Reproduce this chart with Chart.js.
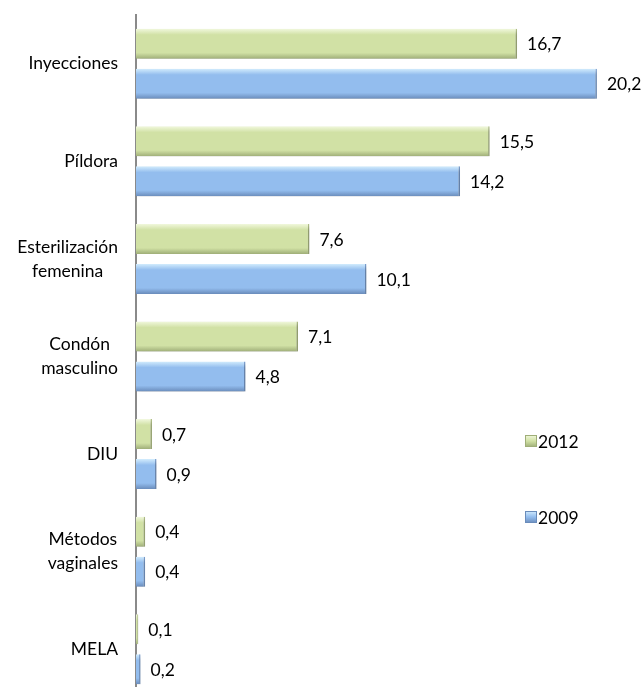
<!DOCTYPE html>
<html>
<head>
<meta charset="utf-8">
<script src="https://cdn.jsdelivr.net/npm/chart.js@4/dist/chart.umd.min.js"></script>
<style>
  html, body { margin: 0; padding: 0; background: #ffffff; overflow: hidden; }
  #wrap { position: relative; width: 643px; height: 698px; }
</style>
</head>
<body>
<div id="wrap"><canvas id="c"></canvas></div>
<script>
// ---- data ----
const categories = [
  ['Inyecciones'],
  ['Píldora'],
  ['Esterilización', 'femenina'],
  ['Condón', 'masculino'],
  ['DIU'],
  ['Métodos', 'vaginales'],
  ['MELA']
];
const seriesNames = ['2012', '2009'];
const values2012 = [16.7, 15.5, 7.6, 7.1, 0.7, 0.4, 0.1];
const values2009 = [20.2, 14.2, 10.1, 4.8, 0.9, 0.4, 0.2];

// ---- styles ----
const FONT = '17.5px Lato';
const palette = {
  '2012': { light: '#f1f8dd', main: '#d1e1a5', dark: '#9fae78', edge: '#b3c189' },
  '2009': { light: '#d2ecfd', main: '#93bdee', dark: '#6a8cbb', edge: '#7c9fd0' }
};
const fmt = v => v.toFixed(1).replace('.', ',');

const barStyle = {
  id: 'barStyle',
  beforeDatasetsDraw(chart) {
    const ctx = chart.ctx;
    chart.data.datasets.forEach((ds, i) => {
      const p = palette[ds.label];
      chart.getDatasetMeta(i).data.forEach(bar => {
        const top = bar.y - bar.height / 2, bot = bar.y + bar.height / 2;
        const g = ctx.createLinearGradient(0, top, 0, bot);
        g.addColorStop(0, p.light);
        g.addColorStop(0.2, p.main);
        g.addColorStop(0.8, p.main);
        g.addColorStop(1, p.dark);
        bar.options.backgroundColor = g;
      });
    });
    ctx.save();
    ctx.shadowColor = 'rgba(0,0,0,0.25)';
    ctx.shadowBlur = 4;
    ctx.shadowOffsetX = 2;
    ctx.shadowOffsetY = 3;
  },
  afterDatasetsDraw(chart) {
    const ctx = chart.ctx;
    ctx.restore();
    ctx.save();
    ctx.font = FONT;
    ctx.fillStyle = '#000';
    ctx.textAlign = 'left';
    ctx.textBaseline = 'middle';
    chart.data.datasets.forEach((ds, i) => {
      chart.getDatasetMeta(i).data.forEach((bar, j) => {
        ctx.fillText(fmt(ds.data[j]), bar.x + 10, bar.y + 1);
      });
    });
    ctx.restore();
  },
  afterDraw(chart) {
    const ctx = chart.ctx;
    const ys = chart.scales.y;
    ctx.save();
    ctx.font = FONT;
    ctx.fillStyle = '#000';
    ctx.textBaseline = 'middle';
    ctx.textAlign = 'center';
    const lineH = 24;
    const rightEdge = 118;
    chart.data.labels.forEach((lines, i) => {
      const y = ys.getPixelForTick(i);
      const w = Math.max(...lines.map(l => ctx.measureText(l).width));
      const cx = rightEdge - w / 2;
      lines.forEach((l, k) => {
        ctx.fillText(l, cx, y + (k - (lines.length - 1) / 2) * lineH);
      });
    });
    // legend
    const legY = [441, 517];
    ctx.textAlign = 'left';
    seriesNames.forEach((name, k) => {
      const p = palette[name];
      const y = legY[k];
      const g = ctx.createLinearGradient(0, y - 6, 0, y + 6);
      g.addColorStop(0, p.light);
      g.addColorStop(0.5, p.main);
      g.addColorStop(1, p.dark);
      ctx.fillStyle = g;
      ctx.fillRect(525, y - 6, 12, 12);
      ctx.strokeStyle = p.dark;
      ctx.lineWidth = 1;
      ctx.strokeRect(525.5, y - 5.5, 11, 11);
      ctx.fillStyle = '#000';
      ctx.fillText(name, 538, y + 1);
    });
    ctx.restore();
  }
};

new Chart(document.getElementById('c'), {
  type: 'bar',
  data: {
    labels: categories,
    datasets: [
      { label: seriesNames[0], data: values2012, backgroundColor: () => palette['2012'].main,
        borderColor: palette['2012'].edge, borderWidth: { top: 0, bottom: 0, left: 0, right: 1.5 }, borderSkipped: 'start' },
      { label: seriesNames[1], data: values2009, backgroundColor: () => palette['2009'].main,
        borderColor: palette['2009'].edge, borderWidth: { top: 0, bottom: 0, left: 0, right: 1.5 }, borderSkipped: 'start' }
    ]
  },
  options: {
    indexAxis: 'y',
    responsive: true,
    maintainAspectRatio: false,
    animation: false,
    devicePixelRatio: 1,
    categoryPercentage: 0.82,
    barPercentage: 0.75,
    layout: { padding: { top: 15, bottom: 0, left: 0, right: 5 } },
    plugins: { legend: { display: false }, tooltip: { enabled: false } },
    scales: {
      x: { display: false, min: 0, max: 22 },
      y: {
        grid: { display: false },
        border: { display: true, color: '#8a8a8a', width: 2 },
        ticks: { display: false },
        afterFit(scale) { scale.width = 136; }
      }
    }
  },
  plugins: [barStyle]
});
</script>
</body>
</html>
